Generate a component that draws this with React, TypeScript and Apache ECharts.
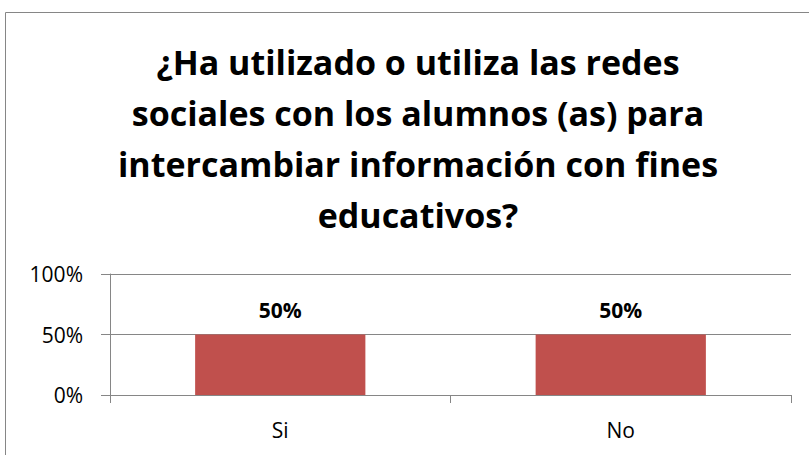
import React, { useEffect, useRef } from "react";
import * as echarts from "echarts";

const categories = ["Si", "No"];
const values = [0.5, 0.5];
const titleLines = [
  "¿Ha utilizado o utiliza las redes",
  "sociales con los alumnos (as) para",
  "intercambiar información con fines",
  "educativos?",
];

const FONT = "'Open Sans', sans-serif";
const GRAY = "#868686";

export default function App() {
  const ref = useRef<HTMLDivElement>(null);
  useEffect(() => {
    document.body.style.margin = "0";
    const chart = echarts.init(ref.current!, null, { renderer: "svg" });
    chart.setOption({
      animation: false,
      backgroundColor: "#ffffff",
      title: {
        text: titleLines.join("\n"),
        left: 413,
        top: 31,
        textAlign: "center",
        textStyle: {
          fontFamily: FONT,
          fontWeight: "bold",
          fontSize: 34,
          lineHeight: 51,
          color: "#000000",
        },
      },
      graphic: [
        {
          type: "rect",
          shape: { x: 5.5, y: 12.5, width: 830, height: 460 },
          style: { fill: "none", stroke: GRAY, lineWidth: 1 },
          silent: true,
        },
      ],
      grid: { left: 110, right: 18, top: 274, bottom: 60 },
      xAxis: {
        type: "category",
        data: categories,
        axisLine: { lineStyle: { color: GRAY, width: 1 } },
        axisTick: { show: true, length: 8, lineStyle: { color: GRAY } },
        axisLabel: {
          fontFamily: FONT,
          fontSize: 21,
          color: "#000000",
          margin: 24,
        },
      },
      yAxis: {
        type: "value",
        min: 0,
        max: 1,
        interval: 0.5,
        axisLine: { show: true, lineStyle: { color: GRAY, width: 1 } },
        axisTick: { show: true, length: 9, lineStyle: { color: GRAY } },
        splitLine: { show: true, lineStyle: { color: GRAY, width: 1 } },
        axisLabel: {
          fontFamily: FONT,
          fontSize: 21,
          color: "#000000",
          margin: 27,
          formatter: (v: number) => `${Math.round(v * 100)}%`,
        },
      },
      series: [
        {
          type: "bar",
          data: values,
          barWidth: "50%",
          itemStyle: { color: "#C0504D" },
          label: {
            show: true,
            position: "top",
            distance: 14,
            fontFamily: FONT,
            fontWeight: "bold",
            fontSize: 21,
            color: "#000000",
            formatter: (p: any) => `${Math.round(p.value * 100)}%`,
          },
        },
      ],
    });
    return () => chart.dispose();
  }, []);
  return <div ref={ref} style={{ width: 809, height: 455 }} />;
}
